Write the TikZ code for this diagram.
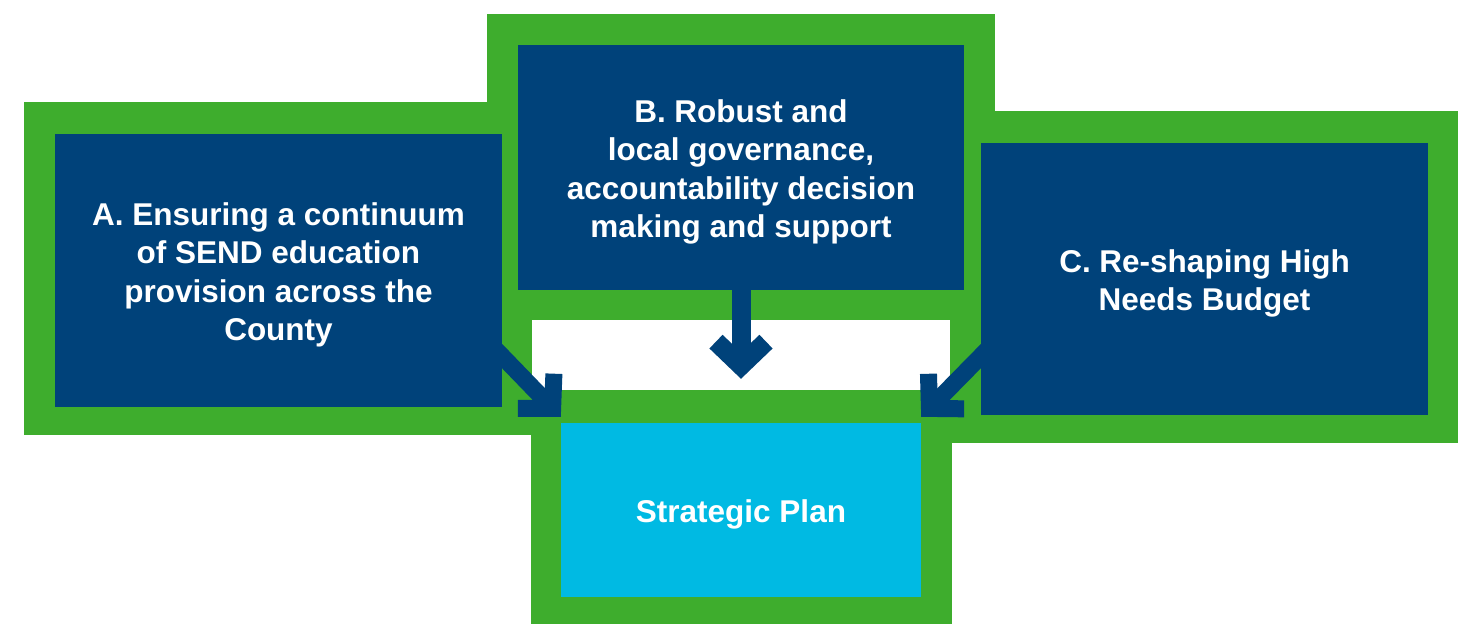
\documentclass[tikz,border=0pt]{standalone}
\usepackage{fontspec}
\setmainfont{Liberation Sans}
\usetikzlibrary{arrows.meta}
\definecolor{framegreen}{RGB}{62,173,45}
\definecolor{boxblue}{RGB}{0,66,122}
\definecolor{plancyan}{RGB}{0,186,227}
\newcommand\boxlift{\rule{0pt}{32pt}}
\begin{document}
\begin{tikzpicture}[x=1pt,y=-1pt,
    box/.style={fill=boxblue, text=white, align=center, inner sep=0pt,
      font=\fontsize{31.5}{38.5}\selectfont\bfseries},
    bigarrow/.style={draw=boxblue, line width=17pt,
      -{Straight Barb[length=24pt,width=50pt,sharp]}}]
  \useasboundingbox (0,0) rectangle (1462,624);
  % green frames behind the boxes
  \fill[framegreen] (24,102) rectangle (532,435);
  \fill[framegreen] (487,14) rectangle (995,320);
  \fill[framegreen] (950,111) rectangle (1458,443);
  \fill[framegreen] (531,390) rectangle (952,624);
  % the four boxes
  \node[box, minimum width=447pt, minimum height=273pt] (a) at (278.5,270.5)
    {\boxlift A. Ensuring a continuum\\of SEND education\\provision across the\\County};
  \node[box, minimum width=446pt, minimum height=245pt] (b) at (741,167.5)
    {\boxlift B. Robust and\\local governance,\\accountability decision\\making and support};
  \node[box, minimum width=447pt, minimum height=272pt] (c) at (1204.5,279)
    {\boxlift C. Re-shaping High\\Needs Budget};
  \node[box, fill=plancyan, minimum width=360pt, minimum height=174pt] (plan) at (741,510)
    {\boxlift Strategic Plan};
  % arrows into the plan
  \draw[bigarrow, shorten <=-14pt] ([yshift=51pt]a.south east) -- ([yshift=6pt]plan.north west);
  \draw[bigarrow, line width=19pt] (b.south) -- ([yshift=44pt]plan.north);
  \draw[bigarrow, shorten <=-14pt] ([yshift=59pt]c.south west) -- ([yshift=6pt]plan.north east);
\end{tikzpicture}
\end{document}
